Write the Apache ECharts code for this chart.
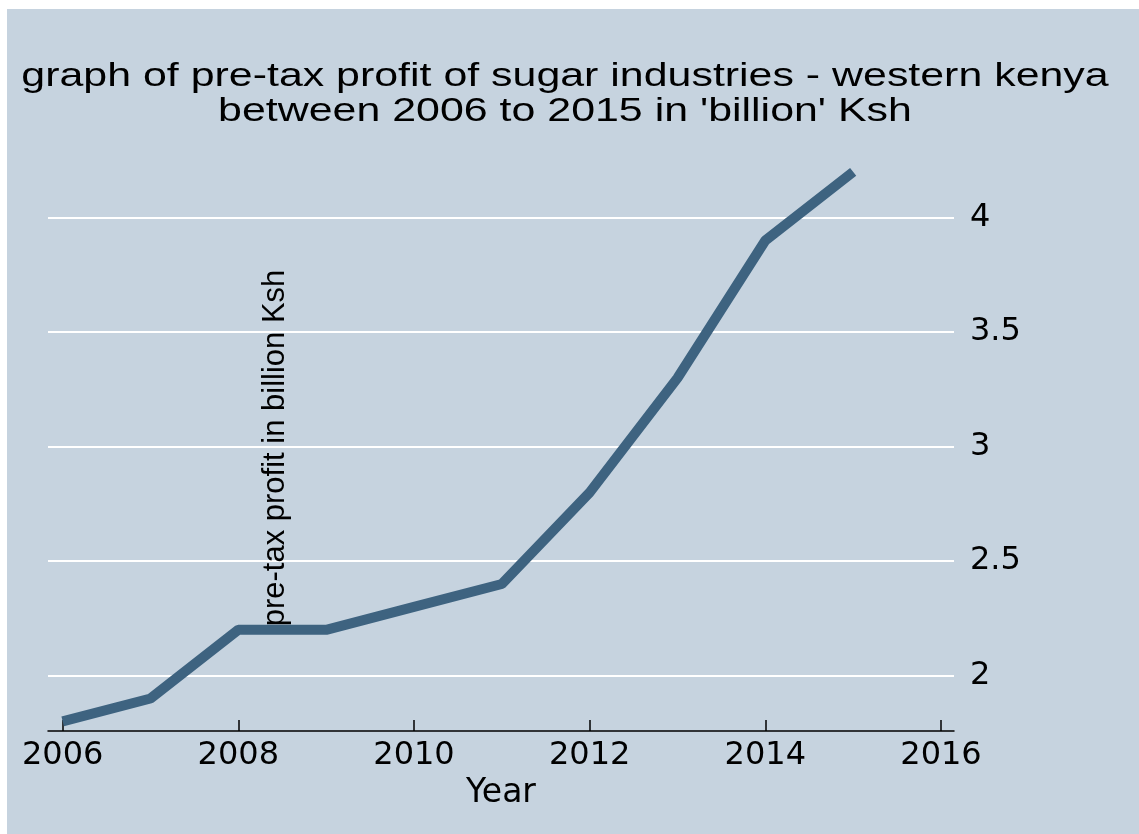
<!DOCTYPE html>
<html>
<head>
<meta charset="utf-8">
<script src="https://cdn.jsdelivr.net/npm/echarts@6/dist/echarts.min.js"></script>
<style>
  html, body { margin: 0; padding: 0; background: #fff; }
  #chart { width: 1139px; height: 834px; }
</style>
</head>
<body>
<div id="chart"></div>
<script>
// data
var years = [2006, 2007, 2008, 2009, 2010, 2011, 2012, 2013, 2014, 2015];
var profit = [1.8, 1.9, 2.2, 2.2, 2.3, 2.4, 2.8, 3.3, 3.9, 4.2];
var xTicks = [2006, 2008, 2010, 2012, 2014, 2016];
var yTicks = [2, 2.5, 3, 3.5, 4];

var titleLines = [
  "graph of pre-tax profit of sugar industries - western kenya",
  "between 2006 to 2015 in 'billion' Ksh"
];

var bg = "#c6d3df";
var lineColor = "#3e6380";

var chart = echarts.init(document.getElementById("chart"));

var points = years.map(function (y, i) {
  return [y, profit[i]];
});

var option = {
  backgroundColor: "#ffffff",
  animation: false,
  graphic: [
    {
      type: "rect",
      z: -10,
      silent: true,
      shape: { x: 7, y: 9, width: 1132, height: 825 },
      style: { fill: bg }
    },
    {
      type: "text",
      x: 565,
      y: 77,
      scaleX: 1.3,
      style: {
        text: titleLines[0],
        font: "33px 'Liberation Sans'",
        fill: "#000",
        textAlign: "center",
        textVerticalAlign: "middle"
      }
    },
    {
      type: "text",
      x: 565,
      y: 112,
      scaleX: 1.3,
      style: {
        text: titleLines[1],
        font: "33px 'Liberation Sans'",
        fill: "#000",
        textAlign: "center",
        textVerticalAlign: "middle"
      }
    }
  ],
  grid: {
    left: 48,
    right: 185,
    top: 165,
    bottom: 103,
    containLabel: false
  },
  xAxis: {
    type: "value",
    min: 2005.833,
    max: 2016.148,
    name: "Year",
    nameLocation: "middle",
    nameGap: 38,
    nameTextStyle: {
      fontFamily: "DejaVu Sans",
      fontSize: 33,
      color: "#000"
    },
    axisLine: {
      show: true,
      onZero: false,
      lineStyle: { color: "#000", width: 1.5 }
    },
    axisTick: {
      show: true,
      inside: true,
      length: 11,
      customValues: xTicks,
      lineStyle: { color: "#000", width: 1.5 }
    },
    axisLabel: {
      show: true,
      customValues: xTicks,
      margin: 9,
      fontFamily: "DejaVu Sans",
      fontSize: 32,
      color: "#000",
      formatter: function (v) { return String(v); }
    },
    splitLine: { show: false }
  },
  yAxis: {
    type: "value",
    position: "right",
    min: 1.758,
    max: 4.23,
    name: "pre-tax profit in billion Ksh",
    nameLocation: "middle",
    nameRotate: 90,
    nameGap: -694,
    nameTextStyle: {
      fontFamily: "Liberation Sans",
      fontSize: 31,
      color: "#000"
    },
    axisLine: { show: false },
    axisTick: { show: false, customValues: yTicks },
    axisLabel: {
      show: true,
      customValues: yTicks,
      margin: 16,
      fontFamily: "DejaVu Sans",
      fontSize: 32,
      color: "#000"
    },
    splitLine: {
      show: true,
      lineStyle: { color: "#ffffff", width: 2 }
    }
  },
  series: [
    {
      type: "line",
      data: points,
      showSymbol: false,
      symbol: "none",
      lineStyle: { color: lineColor, width: 10, cap: "butt" },
      itemStyle: { color: lineColor }
    }
  ]
};

chart.setOption(option);
window.addEventListener("resize", function () {
  chart.resize();
});
</script>
</body>
</html>
